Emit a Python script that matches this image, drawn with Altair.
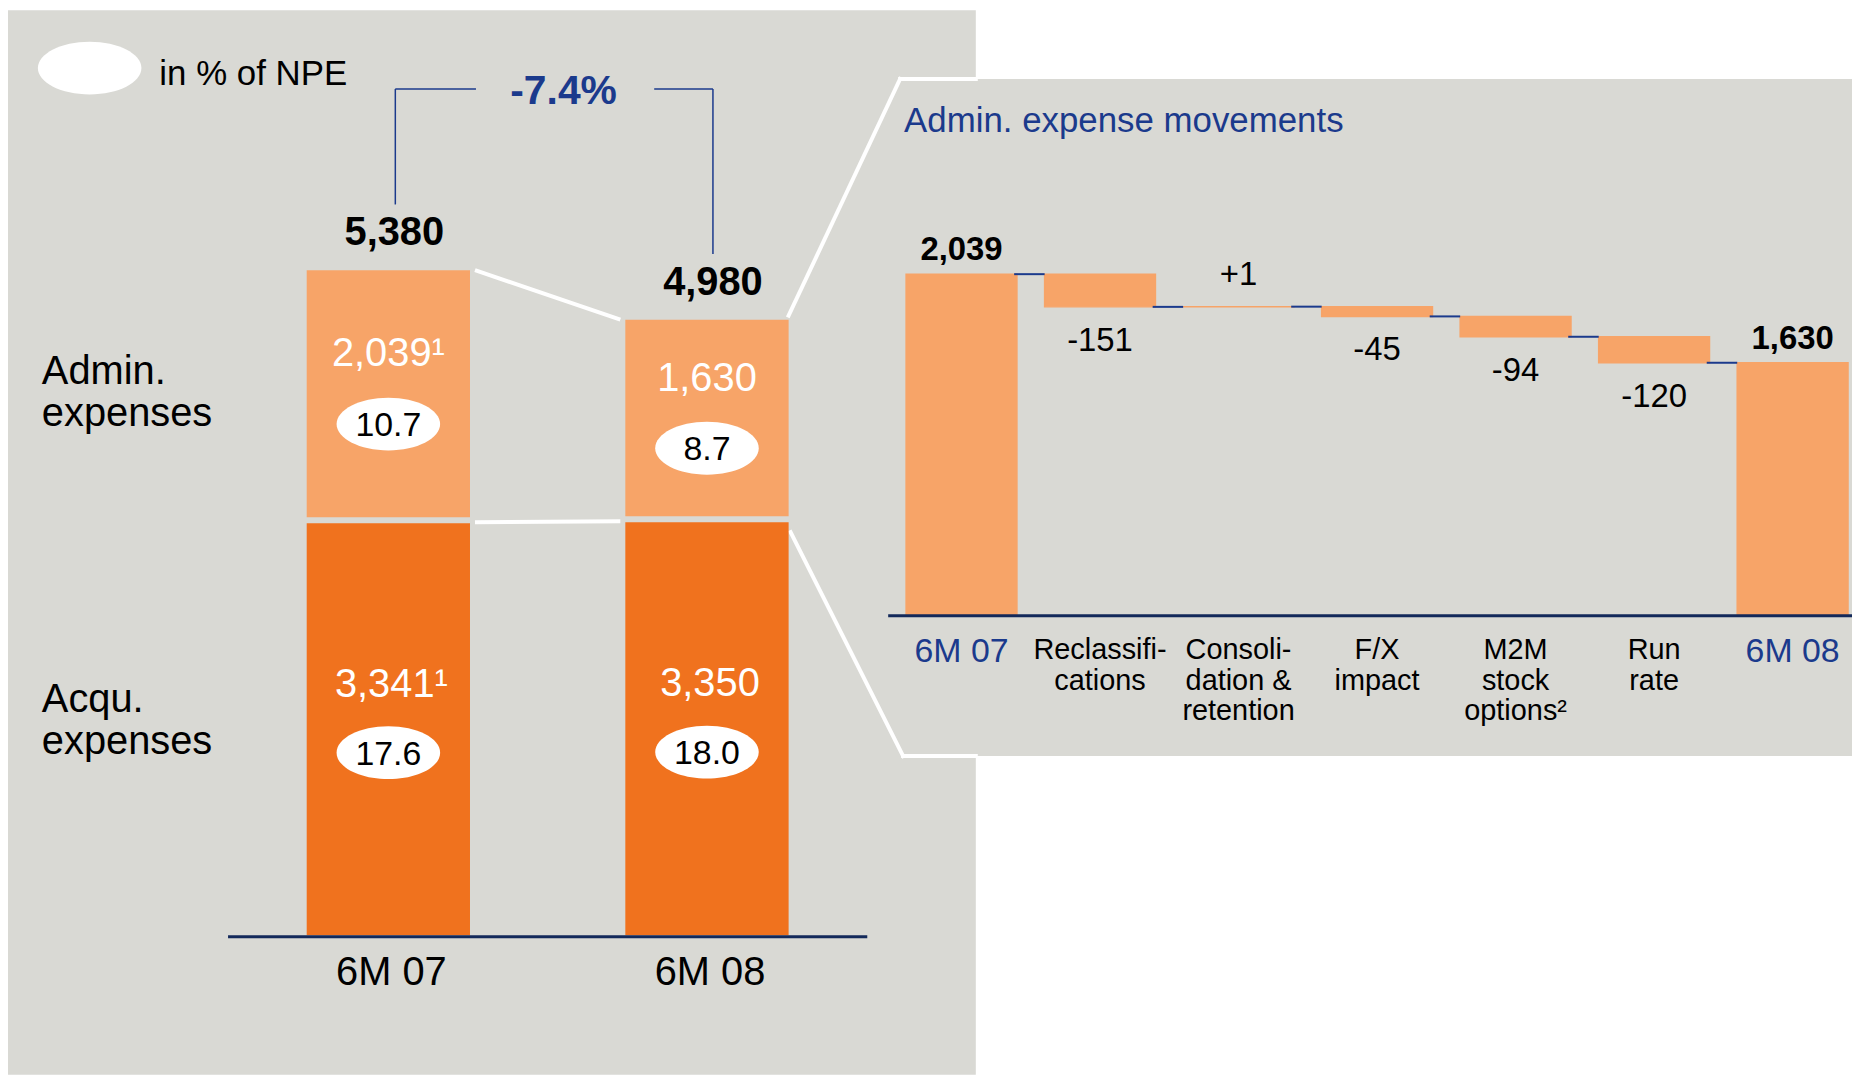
import altair as alt
import pandas as pd

# ---------------- data ----------------
periods = ["6M 07", "6M 08"]
admin_exp = [2039, 1630]
acqu_exp = [3341, 3350]
total_exp = [5380, 4980]
admin_text = ["2,039\u00b9", "1,630"]
acqu_text = ["3,341\u00b9", "3,350"]
admin_npe = ["10.7", "8.7"]
acqu_npe = ["17.6", "18.0"]
total_text = ["5,380", "4,980"]
change_text = "-7.4%"
row_labels = ["Admin.\nexpenses", "Acqu.\nexpenses"]
legend_text = "in % of NPE"

wf_title = "Admin. expense movements"
wf_cats = ["6M 07", "Reclassifi-\ncations", "Consoli-\ndation &\nretention",
           "F/X\nimpact", "M2M\nstock\noptions\u00b2", "Run\nrate", "6M 08"]
wf_start = 2039
wf_deltas = [-151, 1, -45, -94, -120]
wf_end = 1630
wf_text = ["2,039", "-151", "+1", "-45", "-94", "-120", "1,630"]

# ---------------- style / layout ----------------
FONT = "Liberation Sans"
GRAY = "#D9D9D4"
LIGHT = "#F7A468"
DARK = "#F0721E"
NAVY = "#13295A"
BLUE = "#1B3A8C"
W, H = 1852, 1069

XL = dict(domain=[-0.5, 1.5], range=[222, 862])
YL = dict(domain=[0, 5380], range=[929, 261])
XR = dict(domain=[-0.4, 6.4], range=[902, 1848])
YR = dict(domain=[467, 2039], range=[607, 265])
HALF_L = 0.25625
HALF_R = 0.4
BL = "alphabetic"


def sc(d):
    return alt.Scale(domain=d["domain"], range=d["range"], nice=False, zero=False)


def lin(v, d):
    (a, b), (r0, r1) = d["domain"], d["range"]
    return r0 + (v - a) / (b - a) * (r1 - r0)


ELLIPSE = ("M-1,0C-1,-0.2817,-0.5523,-0.51,0,-0.51C0.5523,-0.51,1,-0.2817,1,0"
           "C1,0.2817,0.5523,0.51,0,0.51C-0.5523,0.51,-1,0.2817,-1,0Z")
ELL_SIZE = 104 ** 2


def pxX(f="x"):
    return alt.X(f"{f}:Q", scale=None, axis=None)


def pxY(f="y"):
    return alt.Y(f"{f}:Q", scale=None, axis=None)


def pxtext(rows, **kw):
    df = pd.DataFrame(rows, columns=["x", "y", "t"])
    return alt.Chart(df).mark_text(font=FONT, lineBreak="\n", baseline=BL, **kw).encode(
        x=pxX(), y=pxY(), text="t:N")


layers = []

# ---------- backgrounds ----------
bg = pd.DataFrame({"x": [0, 896], "x2": [972, W], "y": [0, 69], "y2": [H, 749]})
layers.append(alt.Chart(bg).mark_rect(color=GRAY).encode(
    x=pxX(), x2="x2:Q", y=pxY(), y2="y2:Q"))

# white zoom outline
xb = lin(1 + HALF_L, XL)
segs = [
    (972, 69, 896, 69),
    (896, 69, xb, lin(total_exp[1], YL) - 4),
    (xb + 2, lin(acqu_exp[1], YL) + 11, 899, 749),
    (899, 749, 972, 749),
]
outline = pd.DataFrame(segs, columns=["x", "y", "x2", "y2"])
layers.append(alt.Chart(outline).mark_rule(color="white", strokeWidth=4, strokeCap="square").encode(
    x=pxX(), x2="x2:Q", y=pxY(), y2="y2:Q"))

# ---------- left chart ----------
left = pd.DataFrame({
    "idx": [0, 1], "period": periods, "admin": admin_exp, "acqu": acqu_exp,
    "total": total_exp, "admin_t": admin_text, "acqu_t": acqu_text,
    "admin_npe": admin_npe, "acqu_npe": acqu_npe, "total_t": total_text,
})
left["x0"] = left["idx"] - HALF_L
left["x1"] = left["idx"] + HALF_L
left["zero"] = 0
left["admin_mid"] = left["acqu"] + left["admin"] / 2
left["acqu_mid"] = left["acqu"] / 2

base_l = alt.Chart(left)
xl0 = alt.X("x0:Q", scale=sc(XL), axis=None)
layers.append(base_l.mark_rect(color=DARK, yOffset=1).encode(
    x=xl0, x2="x1:Q", y=alt.Y("acqu:Q", scale=sc(YL), axis=None), y2="zero:Q"))
layers.append(base_l.mark_rect(color=LIGHT, y2Offset=-5).encode(
    x=xl0, x2="x1:Q", y=alt.Y("total:Q", scale=sc(YL), axis=None), y2="acqu:Q"))

# white connectors between the two bars
gap = 5 / 320
conn_l = pd.DataFrame({
    "x": [HALF_L + gap, HALF_L + gap],
    "x2": [1 - HALF_L - gap, 1 - HALF_L - gap],
    "y": [total_exp[0], acqu_exp[0]],
    "y2": [total_exp[1], acqu_exp[1]],
})
layers.append(alt.Chart(conn_l).mark_rule(color="white", strokeWidth=4).encode(
    x=alt.X("x:Q", scale=sc(XL), axis=None), x2="x2:Q",
    y=alt.Y("y:Q", scale=sc(YL), axis=None), y2="y2:Q"))

# left axis line
layers.append(alt.Chart(pd.DataFrame({"x": [221], "x2": [863], "y": [930.5]})).mark_rule(
    color=NAVY, strokeWidth=3).encode(x=pxX(), x2="x2:Q", y=pxY()))

xl_idx = alt.X("idx:Q", scale=sc(XL), axis=None)
# segment values
layers.append(base_l.mark_text(font=FONT, fontSize=40, color="white", dy=-30, baseline=BL).encode(
    x=xl_idx, y=alt.Y("admin_mid:Q", scale=sc(YL), axis=None), text="admin_t:N"))
layers.append(base_l.mark_text(font=FONT, fontSize=40, color="white", dy=-32, dx=3, baseline=BL).encode(
    x=xl_idx, y=alt.Y("acqu_mid:Q", scale=sc(YL), axis=None), text="acqu_t:N"))
# NPE ellipses
for mid, lab, off in (("admin_mid", "admin_npe", 28), ("acqu_mid", "acqu_npe", 24)):
    layers.append(base_l.mark_point(shape=ELLIPSE, size=ELL_SIZE, filled=True, color="white",
                                    opacity=1, strokeWidth=0, yOffset=off).encode(
        x=xl_idx, y=alt.Y(f"{mid}:Q", scale=sc(YL), axis=None)))
    layers.append(base_l.mark_text(font=FONT, fontSize=34, color="black", dy=off + 2,
                                   baseline="middle").encode(
        x=xl_idx, y=alt.Y(f"{mid}:Q", scale=sc(YL), axis=None), text=f"{lab}:N"))
# totals
layers.append(base_l.mark_text(font=FONT, fontSize=40, fontWeight="bold", color="black",
                               dx=6, dy=-25, baseline=BL).encode(
    x=xl_idx, y=alt.Y("total:Q", scale=sc(YL), axis=None), text="total_t:N"))
# category labels
layers.append(base_l.mark_text(font=FONT, fontSize=40, color="black", baseline=BL, dx=3).encode(
    x=xl_idx, y=alt.value(979), text="period:N"))

# bracket
bx0 = lin(0, XL) + 7
bx1 = lin(1, XL) + 6
by = 79
brk = pd.DataFrame([
    (bx0, lin(total_exp[0], YL) - 66, bx0, by),
    (bx0, by, 470, by),
    (649, by, bx1, by),
    (bx1, by, bx1, lin(total_exp[1], YL) - 66),
], columns=["x", "y", "x2", "y2"])
layers.append(alt.Chart(brk).mark_rule(color=BLUE, strokeWidth=1.5).encode(
    x=pxX(), x2="x2:Q", y=pxY(), y2="y2:Q"))
layers.append(pxtext([(558, 94, change_text)], fontSize=41, fontWeight="bold", color=BLUE))

# legend
layers.append(alt.Chart(pd.DataFrame({"x": [82], "y": [58]})).mark_point(
    shape=ELLIPSE, size=ELL_SIZE, filled=True, color="white", opacity=1, strokeWidth=0).encode(
    x=pxX(), y=pxY()))
layers.append(pxtext([(152, 75, legend_text)], fontSize=35, color="black", align="left"))

# row labels
layers.append(pxtext([(34, 375, row_labels[0]), (34, 705, row_labels[1])],
                     fontSize=40, color="black", align="left", lineHeight=42))

# ---------- right chart (waterfall) ----------
levels = [wf_start]
for d in wf_deltas:
    levels.append(levels[-1] + d)
floor = YR["domain"][0]
lo = [floor] + [min(levels[i], levels[i + 1]) for i in range(len(wf_deltas))] + [floor]
hi = [wf_start] + [max(levels[i], levels[i + 1]) for i in range(len(wf_deltas))] + [wf_end]
n = len(wf_cats)
kind = ["total"] + ["up" if d > 0 else "down" for d in wf_deltas] + ["total"]
wf = pd.DataFrame({"idx": list(range(n)), "cat": wf_cats, "lo": lo, "hi": hi,
                   "t": wf_text, "kind": kind})
wf["x0"] = wf["idx"] - HALF_R
wf["x1"] = wf["idx"] + HALF_R

xr_idx = alt.X("idx:Q", scale=sc(XR), axis=None)
layers.append(alt.Chart(wf).mark_rect(color=LIGHT, stroke=LIGHT, strokeWidth=1.5).encode(
    x=alt.X("x0:Q", scale=sc(XR), axis=None), x2="x1:Q",
    y=alt.Y("hi:Q", scale=sc(YR), axis=None), y2="lo:Q"))

conn = pd.DataFrame({"idx": list(range(n - 1)), "level": levels})
conn["cx0"] = conn["idx"] + 0.38
conn["cx1"] = conn["idx"] + 0.6
layers.append(alt.Chart(conn).mark_rule(color=BLUE, strokeWidth=2).encode(
    x=alt.X("cx0:Q", scale=sc(XR), axis=None), x2="cx1:Q",
    y=alt.Y("level:Q", scale=sc(YR), axis=None)))

# right axis line
layers.append(alt.Chart(pd.DataFrame({"x": [884], "x2": [W], "y": [608]})).mark_rule(
    color=NAVY, strokeWidth=3).encode(x=pxX(), x2="x2:Q", y=pxY()))

yr_hi = alt.Y("hi:Q", scale=sc(YR), axis=None)
yr_lo = alt.Y("lo:Q", scale=sc(YR), axis=None)
layers.append(alt.Chart(wf).transform_filter("datum.kind == 'total'").mark_text(
    font=FONT, fontSize=33, fontWeight="bold", color="black", dy=-14, baseline=BL).encode(
    x=xr_idx, y=yr_hi, text="t:N"))
layers.append(alt.Chart(wf).transform_filter("datum.kind == 'up'").mark_text(
    font=FONT, fontSize=33, color="black", dy=-22, baseline=BL).encode(
    x=xr_idx, y=yr_hi, text="t:N"))
layers.append(alt.Chart(wf).transform_filter("datum.kind == 'down'").mark_text(
    font=FONT, fontSize=33, color="black", dy=44, baseline=BL).encode(
    x=xr_idx, y=yr_lo, text="t:N"))

# category labels
layers.append(alt.Chart(wf).transform_filter("datum.kind != 'total'").mark_text(
    font=FONT, fontSize=29, color="black", lineBreak="\n", lineHeight=30.5, baseline=BL).encode(
    x=xr_idx, y=alt.value(652), text="cat:N"))
layers.append(alt.Chart(wf).transform_filter("datum.kind == 'total'").mark_text(
    font=FONT, fontSize=34, color=BLUE, baseline=BL).encode(
    x=xr_idx, y=alt.value(655), text="cat:N"))

# title
layers.append(pxtext([(900, 122, wf_title)], fontSize=35, color=BLUE, align="left"))

chart = alt.layer(*layers).resolve_scale(x="independent", y="independent").properties(
    width=W, height=H, padding=0, background="white",
    autosize=alt.AutoSizeParams(type="none"),
).configure_view(stroke=None)

chart.save("out.html", embed_options={"renderer": "svg", "actions": False})
